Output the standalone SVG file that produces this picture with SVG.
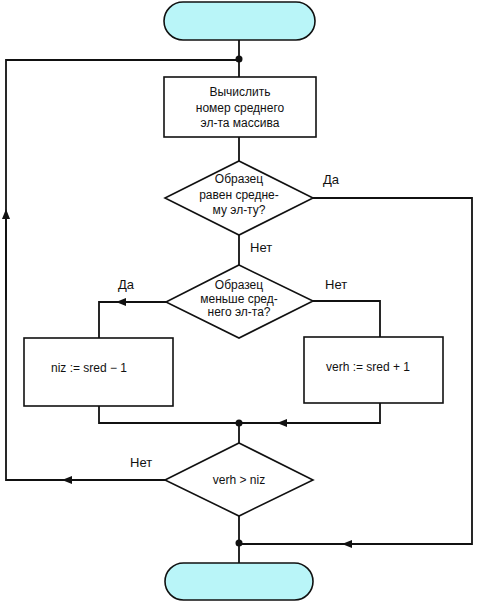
<svg xmlns="http://www.w3.org/2000/svg" width="478" height="604" viewBox="0 0 478 604">
<style>
.ln{fill:none;stroke:#111;stroke-width:1.8}
.sh{fill:#fff;stroke:#111;stroke-width:1.6}
.tm{fill:#b9f5f8;stroke:#111;stroke-width:1.6}
text{font-family:"Liberation Sans",Arial,sans-serif;font-size:12px;fill:#111;text-anchor:middle}
.lb{font-size:13px;text-anchor:start}
</style>
<defs>
<marker id="ah" markerWidth="10" markerHeight="8" refX="5" refY="4" orient="auto" markerUnits="userSpaceOnUse">
<path d="M0,0 L10,4 L0,8 z" fill="#111"/>
</marker>
</defs>
<g id="connectors">
<path class="ln" d="M239,40 V77"/>
<path class="ln" d="M239,137 V161"/>
<path class="ln" d="M239,235 V265"/>
<path class="ln" d="M166,302 H99 V338"/>
<path class="ln" d="M166,302 H121" marker-end="url(#ah)"/>
<path class="ln" d="M313,301 H380 V337"/>
<path class="ln" d="M99,406 V423 H380 V403"/>
<path class="ln" d="M380,423 H282" marker-end="url(#ah)"/>
<path class="ln" d="M239,423 V443"/>
<path class="ln" d="M165,480 H6 V60 H239"/>
<path class="ln" d="M165,480 H67" marker-end="url(#ah)"/>
<path class="ln" d="M6,300 V214" marker-end="url(#ah)"/>
<path class="ln" d="M313,198 H472 V544 H239"/>
<path class="ln" d="M472,544 H347" marker-end="url(#ah)"/>
<path class="ln" d="M239,516 V563"/>
<circle cx="239" cy="59" r="3.5" fill="#111"/>
<circle cx="239" cy="423" r="3.5" fill="#111"/>
<circle cx="239" cy="543" r="3.5" fill="#111"/>
</g>
<g id="start"><rect class="tm" x="164" y="2" width="151" height="38" rx="19"/></g>
<g id="calc">
<rect class="sh" x="164" y="77" width="152" height="60"/>
<text x="240" y="96">Вычислить</text>
<text x="240" y="112">номер среднего</text>
<text x="240" y="127">эл-та массива</text>
</g>
<g id="cond1">
<polygon class="sh" points="239,161 313,198 239,235 165,198"/>
<text x="239" y="183">Образец</text>
<text x="239" y="199">равен средне-</text>
<text x="239" y="214">му эл-ту?</text>
<text class="lb" x="323" y="184">Да</text>
<text class="lb" x="250" y="252">Нет</text>
</g>
<g id="cond2">
<polygon class="sh" points="239,265 313,301 239,338 166,302"/>
<text x="239" y="289">Образец</text>
<text x="239" y="303">меньше сред-</text>
<text x="239" y="316">него эл-та?</text>
<text class="lb" x="118" y="289">Да</text>
<text class="lb" x="325" y="289">Нет</text>
</g>
<g id="niz">
<rect class="sh" x="24" y="338" width="149" height="68"/>
<text x="89" y="372">niz := sred − 1</text>
</g>
<g id="verh">
<rect class="sh" x="304" y="337" width="139" height="66"/>
<text x="368" y="371">verh := sred + 1</text>
</g>
<g id="cond3">
<polygon class="sh" points="239,443 313,480 239,516 165,480"/>
<text x="239" y="484">verh &gt; niz</text>
<text class="lb" x="130" y="467">Нет</text>
</g>
<g id="end"><rect class="tm" x="165" y="563" width="148" height="37" rx="18.5"/></g>
</svg>
